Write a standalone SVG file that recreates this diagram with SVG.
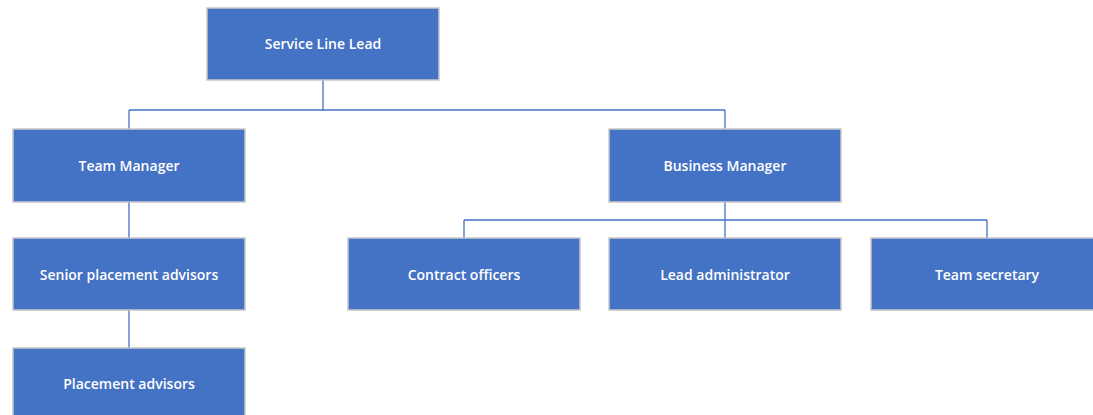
<svg xmlns="http://www.w3.org/2000/svg" width="1093" height="415" viewBox="0 0 1093 415">
  <style>
    .box { fill: #4472c4; stroke: #c8c8c8; stroke-width: 1.5; }
    .label { fill: #ffffff; font-family: "Open Sans", "Liberation Sans", sans-serif; font-size: 14px; font-weight: 600; text-anchor: middle; dominant-baseline: central; }
    .link { fill: none; stroke: #4472c4; stroke-width: 1.3; }
  </style>
  <rect width="1093" height="415" fill="#ffffff"/>
  <g id="connectors">
    <path class="link" d="M323,80 V110 M129,110 H725 M129,110 V129 M725,110 V129"/>
    <path class="link" d="M129,202 V238 M129,310 V348"/>
    <path class="link" d="M725,202 V238 M464,220 H987 M464,220 V238 M987,220 V238"/>
  </g>
  <g id="service-line-lead">
    <rect class="box" x="207" y="8" width="232" height="72"/>
    <text class="label" x="323" y="43">Service Line Lead</text>
  </g>
  <g id="team-manager">
    <rect class="box" x="13" y="129" width="232" height="73"/>
    <text class="label" x="129" y="165">Team Manager</text>
  </g>
  <g id="senior-placement-advisors">
    <rect class="box" x="13" y="238" width="232" height="72"/>
    <text class="label" x="129" y="274">Senior placement advisors</text>
  </g>
  <g id="placement-advisors">
    <rect class="box" x="13" y="348" width="232" height="72"/>
    <text class="label" x="129" y="383">Placement advisors</text>
  </g>
  <g id="business-manager">
    <rect class="box" x="609" y="129" width="232" height="73"/>
    <text class="label" x="725" y="165">Business Manager</text>
  </g>
  <g id="contract-officers">
    <rect class="box" x="348" y="238" width="232" height="72"/>
    <text class="label" x="464" y="274">Contract officers</text>
  </g>
  <g id="lead-administrator">
    <rect class="box" x="609" y="238" width="232" height="72"/>
    <text class="label" x="725" y="274">Lead administrator</text>
  </g>
  <g id="team-secretary">
    <rect class="box" x="871" y="238" width="232" height="72"/>
    <text class="label" x="987" y="274">Team secretary</text>
  </g>
</svg>
